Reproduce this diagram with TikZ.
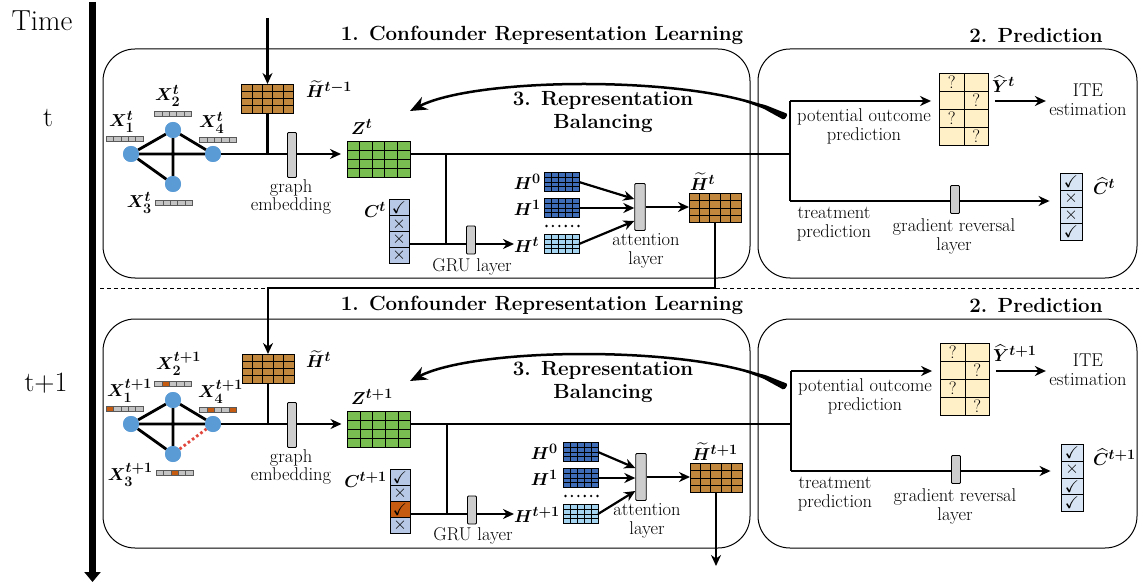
\documentclass[tikz,border=0pt]{standalone}
\usepackage{amsmath,amssymb}
\usepackage{bm}
\usetikzlibrary{arrows.meta,calc,matrix}
\definecolor{brn}{RGB}{193,135,60}
\definecolor{grn}{RGB}{120,190,80}
\definecolor{dblu}{RGB}{62,108,182}
\definecolor{lblu}{RGB}{165,212,240}
\definecolor{cblu}{RGB}{183,200,230}
\definecolor{chb}{RGB}{214,228,243}
\definecolor{org}{RGB}{197,90,17}
\definecolor{crm}{RGB}{255,240,200}
\definecolor{nblu}{RGB}{91,155,213}
\definecolor{barg}{RGB}{205,205,205}
\definecolor{fgr}{RGB}{195,195,195}
\definecolor{rdot}{RGB}{225,70,60}
\newcommand{\mychk}{$\checkmark$}
\newcommand{\mycrs}{$\times$}
\newcommand{\fbar}[3]{\foreach \cc [count=\kk] in {#3}{\draw[fill=\cc, draw=black!65, line width=0.5pt] ({#1+(\kk-1)*7.4},#2) rectangle ++(7.4,4.8);}}
\tikzset{
 conn/.style={line width=2.2pt},
 arr/.style={line width=2.2pt, -{Stealth[length=11pt,width=10pt]}},
 gedge/.style={line width=2.8pt},
 rdotted/.style={draw=rdot, line width=2.8pt, dash pattern=on 2.6pt off 2.6pt},
 panel/.style={line width=1pt, rounded corners=32pt},
 ttl/.style={font=\fontsize{20.5}{23.5}\selectfont\bfseries, align=center},
 lbl/.style={align=center, font=\fontsize{18.5}{18.8}\selectfont},
 mlbl/.style={inner sep=0pt, font=\fontsize{19}{20}\selectfont},
 gnode/.style={circle, fill=nblu, minimum size=16pt, inner sep=0pt},
 grid/.style 2 args={path picture={
   \foreach \gi in {1,...,#1}{\draw[line width=0.8pt] ($(path picture bounding box.south west)!\gi/#1!(path picture bounding box.south east)$) -- ($(path picture bounding box.north west)!\gi/#1!(path picture bounding box.north east)$);}
   \foreach \gi in {1,...,#2}{\draw[line width=0.8pt] ($(path picture bounding box.south west)!\gi/#2!(path picture bounding box.north west)$) -- ($(path picture bounding box.south east)!\gi/#2!(path picture bounding box.north east)$);}
 }},
 mat/.style={draw, line width=0.9pt, inner sep=0pt, outer sep=0pt},
 brownm/.style={mat, fill=brn, minimum width=52pt, minimum height=29pt, grid={5}{4}},
 greenm/.style={mat, fill=grn, minimum width=63pt, minimum height=36pt, grid={5}{4}},
 hmat/.style={mat, fill=#1, minimum width=35pt, minimum height=19pt, grid={5}{4}},
 gbar/.style={draw, line width=0.9pt, fill=barg, minimum width=9pt, inner sep=0pt, rounded corners=1pt},
 ytab/.style={matrix of nodes, nodes in empty cells, ampersand replacement=\&, inner sep=0pt, outer sep=0pt, column sep=-0.9pt, row sep=-0.9pt, nodes={draw, line width=0.9pt, fill=crm, minimum width=24.5pt, minimum height=18pt, inner sep=0pt, anchor=center, font=\fontsize{18}{18}\selectfont}},
 ctab/.style={matrix of nodes, inner sep=0pt, outer sep=0pt, row sep=-0.9pt, nodes={draw, line width=0.9pt, fill=cblu, minimum width=20pt, minimum height=15.9pt, inner sep=0pt, anchor=center, font=\fontsize{17}{17}\selectfont}},
 chtab/.style={ctab, nodes={fill=chb, minimum width=22pt, minimum height=16.7pt}},
 rb/.style={line width=2.5pt, -{Stealth[length=17pt,width=14pt]}},
}
\begin{document}
\begin{tikzpicture}[x=1pt,y=-1pt,font=\fontsize{18.5}{18.8}\selectfont]
\useasboundingbox (0,0) rectangle (1139,585);
% time axis
\node[font=\fontsize{29}{30}\selectfont] (time) at (42,21) {Time};
\node[font=\fontsize{28}{30}\selectfont] (tl) at (48,118) {t};
\node[font=\fontsize{28}{30}\selectfont] (t1l) at (46,383) {t+1};
\coordinate (tA) at (92.5,2);
\coordinate (tB) at (92.5,582);
\draw[line width=6.5pt, -{Triangle[length=10pt,width=16pt]}] (tA) -- (tB);
% dashed separator
\coordinate (dL) at (100,288);
\coordinate (dR) at (1139,288);
\draw[line width=0.8pt, dash pattern=on 4pt off 3pt] (dL) -- (dR);

% ================= TOP PANEL =================
\draw[panel] (103,49) rectangle (750,278);
\draw[panel] (758,49) rectangle (1137,278);
\node[ttl] (aT1) at (542,35) {1. Confounder Representation Learning};
\node[ttl] (aT2) at (1036,35) {2. Prediction};
% graph
\node[gnode] (an1) at (131,154) {};
\node[gnode] (an2) at (173,130) {};
\node[gnode] (an3) at (173,184) {};
\node[gnode] (an4) at (213,154) {};
\draw[gedge] (an1) -- (an2) (an1) -- (an4) (an1) -- (an3) (an2) -- (an4) (an2) -- (an3);
\node[gnode] at (an1) {};
\node[gnode] at (an2) {};
\node[gnode] at (an3) {};
\node[gnode] at (an4) {};
\fbar{106}{136}{fgr,fgr,fgr,fgr,fgr}
\fbar{154.5}{111}{fgr,fgr,fgr,fgr,fgr}
\fbar{199.5}{137.5}{fgr,fgr,fgr,fgr,fgr}
\fbar{155.5}{200}{fgr,fgr,fgr,fgr,fgr}
\node[mlbl, anchor=south west] (aX1) at (109,133) {$\bm{X_1^t}$};
\node[mlbl, anchor=south west] (aX2) at (155,107) {$\bm{X_2^t}$};
\node[mlbl, anchor=south west] (aX4) at (199,134) {$\bm{X_4^t}$};
\node[mlbl, anchor=east] (aX3) at (152,203) {$\bm{X_3^t}$};
% H tilde previous
\node[brownm] (aHp) at (267.5,98.5) {};
\node[mlbl, anchor=west] (aHpl) at (306,89) {$\bm{\widetilde{H}^{t-1}}$};
\coordinate (atop) at (267.5,18);
\draw[arr] (atop) -- (aHp.north);
\draw[conn] (aHp.south) -- (aHp.south |- an4);
% Z
\node[greenm] (aZ) at (378.5,159) {};
\node[mlbl, anchor=west] (aZl) at (351,127) {$\bm{Z^t}$};
\draw[arr, shorten >=6pt] (an4) -- (an4 -| aZ.west);
\node[gbar, minimum height=45pt] (aGE) at (292,155) {};
\node[lbl] (aGEl) at (291,197) {graph\\embedding};
% main line and GRU
\coordinate (aj1) at (446,154);
\coordinate (aj2) at (446,244);
\coordinate (abr) at (790,154);
\draw[conn] (aZ.east |- abr) -- (abr);
\draw[conn] (aj1) -- (aj2);
\matrix[ctab] (aC) at (399,231.7) {\mychk\\ \mycrs\\ \mycrs\\ \mycrs\\};
\node[mlbl, anchor=east] (aCl) at (386,210) {$\bm{C^t}$};
\node[mlbl, anchor=west] (aHtl) at (514,245) {$\bm{H^t}$};
\draw[arr] (aC.east |- aj2) -- (aHtl.west |- aj2);
\node[gbar, minimum height=28pt] (aGRU) at (471,240) {};
\node[lbl] (aGRUl) at (472,267) {GRU layer};
% H sequence and attention
\node[hmat=dblu] (aH0) at (561.5,182) {};
\node[hmat=dblu] (aH1) at (561.5,208) {};
\node[hmat=lblu] (aHt) at (561.5,244) {};
\node[mlbl, anchor=east] (aH0l) at (541,182) {$\bm{H^0}$};
\node[mlbl, anchor=east] (aH1l) at (541,208) {$\bm{H^1}$};
\foreach \kk in {0,...,5} \fill (546.5+6.4*\kk,226) circle (1.3);
\node[gbar, minimum width=10.5pt, minimum height=47pt] (aAtt) at (640,207) {};
\draw[arr] (aH0.east) -- ($(aAtt.west)+(0,-8)$);
\draw[arr] (aH1.east) -- (aAtt.west |- aH1.east);
\draw[arr] (aHt.east) -- ($(aAtt.west)+(0,14)$);
\node[lbl] (aAttl) at (646,251) {attention\\layer};
\node[brownm] (aHn) at (715,208) {};
\node[mlbl, anchor=south west] (aHnl) at ($(aHn.north west)+(1,-3)$) {$\bm{\widetilde{H}^t}$};
\draw[arr] (aAtt.east) -- (aAtt.east -| aHn.west);
% prediction
\coordinate (abt) at (790,101);
\coordinate (abb) at (790,201);
\draw[conn] (abt) -- (abb);
\matrix[ytab] (aY) at (964,109) {? \& \\ \& ? \\ ? \& \\ \& ? \\};
\node[mlbl, anchor=west] (aYl) at (992,84) {$\bm{\widehat{Y}^t}$};
\draw[arr, shorten >=8pt] (abt) -- (abt -| aY.west);
\node[lbl] (aPO) at (864,126) {potential outcome\\prediction};
\node[lbl] (aITE) at (1088,100) {ITE\\estimation};
\draw[arr, shorten <=6pt] (aY.east |- abt) -- (aITE.west |- abt);
\matrix[chtab] (aCh) at (1071,207) {\mychk\\ \mycrs\\ \mycrs\\ \mychk\\};
\node[mlbl, anchor=west] (aChl) at (1093,186) {$\bm{\widehat{C}^t}$};
\draw[arr, shorten >=10pt] (abb) -- (abb -| aCh.west);
\node[gbar, minimum height=28pt] (aGRL) at (955,199.5) {};
\node[lbl] (aTP) at (834,224) {treatment\\prediction};
\node[lbl] (aGRLl) at (954,236.5) {gradient reversal\\layer};
% representation balancing
\coordinate (arbR) at (786,117);
\coordinate (arbL) at (410,111);
\draw[rb] (arbR) .. controls (720,75) and (480,75) .. (arbL);
\fill[rounded corners=1.5pt] (735.5,98.4) -- (765,104.9) -- (787.9,114) -- (784.1,120) -- (763.4,108.6) -- cycle;
\node[ttl] (aRB) at (603,112) {3. Representation\\Balancing};

% ================= BOTTOM PANEL =================
\begin{scope}[yshift=-270pt]
\draw[panel] (103,49) rectangle (750,278);
\draw[panel] (758,49) rectangle (1137,278);
\node[ttl] (bT1) at (542,35) {1. Confounder Representation Learning};
\node[ttl] (bT2) at (1036,35) {2. Prediction};
\node[gnode] (bn1) at (131,154) {};
\node[gnode] (bn2) at (173,130) {};
\node[gnode] (bn3) at (173,184) {};
\node[gnode] (bn4) at (213,154) {};
\draw[gedge] (bn1) -- (bn2) (bn1) -- (bn4) (bn1) -- (bn3) (bn2) -- (bn4) (bn2) -- (bn3);
\draw[rdotted] (bn3) -- (bn4);
\node[gnode] at (bn1) {};
\node[gnode] at (bn2) {};
\node[gnode] at (bn3) {};
\node[gnode] at (bn4) {};
\fbar{106}{136}{org,fgr,fgr,fgr,fgr}
\fbar{154.5}{111}{fgr,org,fgr,fgr,fgr}
\fbar{199.5}{137.5}{fgr,org,fgr,fgr,org}
\fbar{156}{200}{fgr,fgr,org,fgr,fgr}
\node[mlbl, anchor=south west] (bX1) at (107,133) {$\bm{X_1^{t+1}}$};
\node[mlbl, anchor=south west] (bX2) at (156,106) {$\bm{X_2^{t+1}}$};
\node[mlbl, anchor=south west] (bX4) at (198,134) {$\bm{X_4^{t+1}}$};
\node[mlbl, anchor=east] (bX3) at (153,205) {$\bm{X_3^{t+1}}$};
\node[brownm] (bHp) at (268,98.5) {};
\node[mlbl, anchor=west] (bHpl) at (306,89) {$\bm{\widetilde{H}^{t}}$};
\draw[conn] (bHp.south) -- (bHp.south |- bn4);
\node[greenm] (bZ) at (379,159) {};
\node[mlbl, anchor=west] (bZl) at (351,127) {$\bm{Z^{t+1}}$};
\draw[arr, shorten >=6pt] (bn4) -- (bn4 -| bZ.west);
\node[gbar, minimum height=45pt] (bGE) at (292,155) {};
\node[lbl] (bGEl) at (291,197) {graph\\embedding};
\coordinate (bj1) at (447,154);
\coordinate (bj2) at (447,244);
\coordinate (bbr) at (791,154);
\draw[conn] (bZ.east |- bbr) -- (bbr);
\draw[conn] (bj1) -- (bj2);
\matrix[ctab] (bC) at (400,231.2) {\mychk\\ \mycrs\\ |[fill=org]| \mychk\\ \mycrs\\};
\node[mlbl, anchor=east] (bCl) at (387,210) {$\bm{C^{t+1}}$};
\node[mlbl, anchor=west] (bHtl) at (514,245) {$\bm{H^{t+1}}$};
\draw[arr] (bC.east |- bj2) -- (bHtl.west |- bj2);
\node[gbar, minimum height=28pt] (bGRU) at (472,240) {};
\node[lbl] (bGRUl) at (473,266) {GRU layer};
\node[hmat=dblu] (bH0) at (580.5,182) {};
\node[hmat=dblu] (bH1) at (580.5,208) {};
\node[hmat=lblu] (bHt) at (580.5,244) {};
\node[mlbl, anchor=east] (bH0l) at (558,182) {$\bm{H^0}$};
\node[mlbl, anchor=east] (bH1l) at (558,208) {$\bm{H^1}$};
\foreach \kk in {0,...,5} \fill (565.5+6.4*\kk,226) circle (1.3);
\node[gbar, minimum width=10.5pt, minimum height=47pt] (bAtt) at (641,207) {};
\draw[arr] (bH0.east) -- ($(bAtt.west)+(0,-9)$);
\draw[arr] (bH1.east) -- (bAtt.west |- bH1.east);
\draw[arr] (bHt.east) -- ($(bAtt.west)+(0,14)$);
\node[lbl] (bAttl) at (647,251) {attention\\layer};
\node[brownm] (bHn) at (716,208) {};
\node[mlbl, anchor=south west] (bHnl) at ($(bHn.north west)+(2,-3)$) {$\bm{\widetilde{H}^{t+1}}$};
\draw[arr] (bAtt.east) -- (bAtt.east -| bHn.west);
\coordinate (bout) at (716,296);
\draw[arr] (bHn.south) -- (bout);
\coordinate (bbt) at (791,101);
\coordinate (bbb) at (791,201);
\draw[conn] (bbt) -- (bbb);
\matrix[ytab] (bY) at (965,109) {? \& \\ \& ? \\ ? \& \\ \& ? \\};
\node[mlbl, anchor=west] (bYl) at (993,83) {$\bm{\widehat{Y}^{t+1}}$};
\draw[arr, shorten >=8pt] (bbt) -- (bbt -| bY.west);
\node[lbl] (bPO) at (865,126) {potential outcome\\prediction};
\node[lbl] (bITE) at (1088,100) {ITE\\estimation};
\draw[arr, shorten <=6pt] (bY.east |- bbt) -- (bITE.west |- bbt);
\matrix[chtab] (bCh) at (1072,208) {\mychk\\ \mycrs\\ \mychk\\ \mychk\\};
\node[mlbl, anchor=west] (bChl) at (1093,187) {$\bm{\widehat{C}^{t+1}}$};
\draw[arr, shorten >=10pt] (bbb) -- (bbb -| bCh.west);
\node[gbar, minimum height=28pt] (bGRL) at (956,199.5) {};
\node[lbl] (bTP) at (835,224) {treatment\\prediction};
\node[lbl] (bGRLl) at (955,236.5) {gradient reversal\\layer};
\coordinate (brbR) at (786,117);
\coordinate (brbL) at (410,111);
\draw[rb] (brbR) .. controls (720,75) and (480,75) .. (brbL);
\fill[rounded corners=1.5pt] (735.5,98.4) -- (765,104.9) -- (787.9,114) -- (784.1,120) -- (763.4,108.6) -- cycle;
\node[ttl] (bRB) at (603,112) {3. Representation\\Balancing};
\end{scope}

% connector from top H tilde to bottom panel
\coordinate (aturn) at (715,288);
\draw[arr] (aHn.south) -- (aturn) -| (bHp.north);
\end{tikzpicture}
\end{document}
